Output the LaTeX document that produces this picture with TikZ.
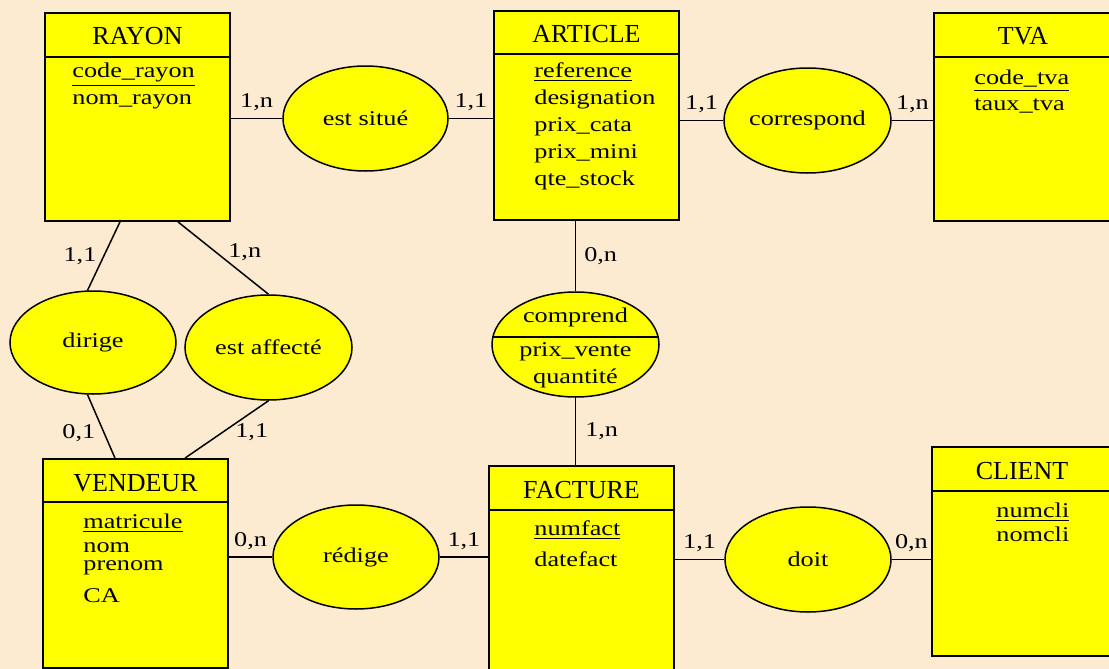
\documentclass[tikz,border=0pt]{standalone}
\usepackage{fontspec}
\setmainfont{Liberation Serif}[FakeStretch=1.25]
\newfontfamily\titrefont{Liberation Serif}
\usetikzlibrary{positioning, shapes.geometric}

\definecolor{fond}{RGB}{252,234,209}
\definecolor{jaune}{RGB}{255,255,0}

\tikzset{
  entite/.style={draw, line width=0.9pt, fill=jaune, inner sep=0pt},
  assoc/.style={draw, ellipse, line width=0.75pt, fill=jaune, inner sep=0pt,
                minimum width=83.5pt, minimum height=52.5pt},
  titre/.style={inner sep=0pt, font=\titrefont\fontsize{13}{15}\selectfont},
  attr/.style={inner sep=0pt, anchor=north west, align=left},
  lien/.style={line width=0.75pt},
  card/.style={inner sep=1pt}
}

\begin{document}
\begin{tikzpicture}[x=0.5pt, y=-0.5pt, font=\fontsize{10.5}{13.5}\selectfont]

% fond
\useasboundingbox (0,0) rectangle (1109,669);
\clip (0,0) rectangle (1109,669);
\fill[fond] (0,0) rectangle (1109,669);

% entites
\node[entite, minimum width=92.5pt, minimum height=104pt] (rayon) at (137.5,117) {};
\node[entite, minimum width=92.5pt, minimum height=104.5pt] (article) at (586.5,115.5) {};
\node[entite, minimum width=89pt, minimum height=104pt] (tva) at (1023,117) {};
\node[entite, minimum width=92.5pt, minimum height=104.5pt] (vendeur) at (135.5,563.5) {};
\node[entite, minimum width=92.5pt, minimum height=112pt] (facture) at (581.5,578) {};
\node[entite, minimum width=90pt, minimum height=104.5pt] (client) at (1022,551.5) {};

% lignes sous les titres
\draw[line width=0.9pt] (rayon.west |- 0,57) -- (rayon.east |- 0,57);
\draw[line width=0.9pt] (article.west |- 0,54) -- (article.east |- 0,54);
\draw[line width=0.9pt] (tva.west |- 0,57) -- (tva.east |- 0,57);
\draw[line width=0.9pt] (vendeur.west |- 0,502) -- (vendeur.east |- 0,502);
\draw[line width=0.9pt] (facture.west |- 0,510) -- (facture.east |- 0,510);
\draw[line width=0.9pt] (client.west |- 0,491) -- (client.east |- 0,491);

% titres
\node[titre, below=7.5pt of rayon.north] (rayon-t) {RAYON};
\node[titre, below=7.5pt of article.north] (article-t) {ARTICLE};
\node[titre, below=7.5pt of tva.north] (tva-t) {TVA};
\node[titre, below=8pt of vendeur.north] (vendeur-t) {VENDEUR};
\node[titre, below=8pt of facture.north] (facture-t) {FACTURE};
\node[titre, below=8pt of client.north] (client-t) {CLIENT};

% attributs
\node[attr] (rayon-a) at (72,62.7) {\underline{code\_rayon}\\nom\_rayon};
\node[attr] (article-a) at (534,62.7) {\underline{reference}\\designation\\prix\_cata\\prix\_mini\\qte\_stock};
\node[attr] (tva-a) at (974,69.7) {\underline{code\_tva}\\[-0.5pt]taux\_tva};
\node[attr] (vendeur-a) at (83,513.7) {\underline{matricule}\\[-1.75pt]nom\\[-4.25pt]prenom\\[2.5pt]CA};
\node[attr] (facture-a) at (534,520.7) {\underline{numfact}\\[2pt]datefact};
\node[attr] (client-a) at (996,502.7) {\underline{numcli}\\[-1.5pt]nomcli};

% associations
\node[assoc, minimum width=82.5pt] (estsitue) at (365.5,118.5) {est situé};
\node[assoc] (correspond) at (807.5,120.5) {correspond};
\node[assoc, minimum width=83pt, minimum height=51.5pt] (dirige) at (93,342.5) {dirige};
\node[assoc] (estaffecte) at (268.5,347.5) {est affecté};
\node[assoc] (comprend) at (575.5,344.5) {};
\node[assoc, minimum width=83pt, minimum height=52pt] (redige) at (356,557) {rédige};
\node[assoc, minimum width=83pt] (doit) at (808,559.5) {doit};

% association porteuse de donnees
\draw[lien] (comprend.175) -- (comprend.5);
\node[inner sep=0pt, align=center] (comprend-t) at ([yshift=-1.5pt]comprend.center)
  {comprend\\[3.5pt]prix\_vente\\quantité};

% liens et cardinalites
\draw[lien] (rayon.east |- estsitue.west) -- (estsitue.west)
  node[card, midway, above=2.5pt] (c-rs) {1,n};
\draw[lien] (estsitue.east) -- (article.west |- estsitue.east)
  node[card, midway, above=2.5pt] (c-sa) {1,1};
\draw[lien] (article.east |- correspond.west) -- (correspond.west)
  node[card, midway, above=2.5pt] (c-ac) {1,1};
\draw[lien] (correspond.east) -- (tva.west |- correspond.east)
  node[card, midway, above=2.5pt] (c-ct) {1,n};

\draw[lien] ([xshift=-8.75pt]rayon.south) -- (dirige.96)
  node[card, midway, left=2.3pt] (c-rd) {1,1};
\draw[lien] ([xshift=20.25pt]rayon.south) -- (estaffecte.north)
  node[card, pos=0.42, right=4.8pt] (c-re) {1,n};
\draw[lien] (dirige.264) -- ([xshift=-10.25pt]vendeur.north)
  node[card, pos=0.6, left=3pt] (c-dv) {0,1};
\draw[lien] (estaffecte.south) -- ([xshift=24.75pt]vendeur.north)
  node[card, pos=0.55, right=5pt] (c-ev) {1,1};

\draw[lien] (article.south -| comprend.north) -- (comprend.north)
  node[card, midway, right=3pt] (c-arc) {0,n};
\draw[lien] (comprend.south) -- (comprend.south |- facture.north)
  node[card, midway, right=3.5pt] (c-cf) {1,n};

\draw[lien] (vendeur.east |- redige.west) -- (redige.west)
  node[card, midway, above=2.5pt] (c-vr) {0,n};
\draw[lien] (redige.east) -- (facture.west |- redige.east)
  node[card, midway, above=2.5pt] (c-rf) {1,1};
\draw[lien] (facture.east |- doit.west) -- (doit.west)
  node[card, midway, above=2.5pt] (c-fd) {1,1};
\draw[lien] (doit.east) -- (client.west |- doit.east)
  node[card, midway, above=2.5pt] (c-dc) {0,n};

\end{tikzpicture}
\end{document}
